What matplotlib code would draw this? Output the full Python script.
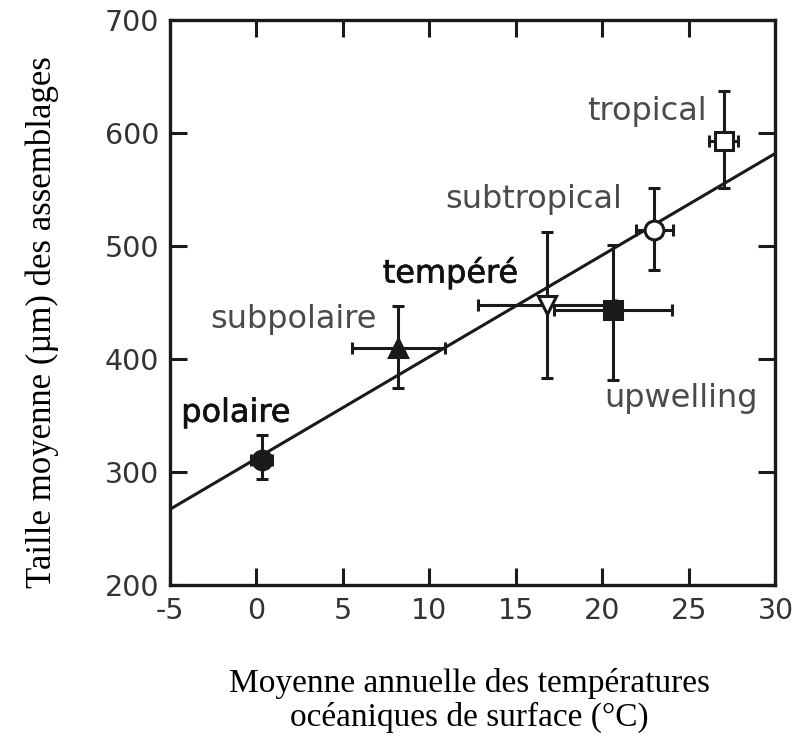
import matplotlib
matplotlib.use("Agg")
import matplotlib.pyplot as plt
import matplotlib.patheffects as pe
import numpy as np

# assemblages : temperature moyenne (degC) et taille moyenne (um)
noms = ["polaire", "subpolaire", "tempéré", "upwelling", "subtropical", "tropical"]
temp = [0.3, 8.2, 16.8, 20.6, 23.0, 27.0]
taille = [311, 410, 448, 443, 514, 593]
err_temp = [0.6, 2.7, 4.0, 3.4, 1.05, 0.85]
err_taille_bas = [17, 36, 65, 62, 35, 42]
err_taille_haut = [22, 37, 64, 58, 37, 44]
marqueurs = ["o", "^", "v", "s", "o", "s"]
remplis = [True, True, False, True, False, False]

# position des etiquettes (coin gauche, centre vertical)
etiq_x = [-4.35, -2.7, 7.3, 20.1, 10.9, 19.1]
etiq_y = [352, 435, 476, 365, 541, 619]
gras = [True, False, True, False, False, False]

# droite de regression
pente = 9.0
ordonnee = 312.0

plt.rcParams["font.family"] = ["DejaVu Sans"]
plt.rcParams["axes.unicode_minus"] = False

fig = plt.figure(figsize=(7.97, 7.42), dpi=100)
ax = fig.add_axes([0.2133, 0.2116, 0.7597, 0.7615])

xl = np.array([-5, 30])
ax.plot(xl, ordonnee + pente * xl, color="#1a1a1a", lw=2.2, zorder=2)

for i in range(len(noms)):
    ax.errorbar(temp[i], taille[i], xerr=err_temp[i],
                yerr=[[err_taille_bas[i]], [err_taille_haut[i]]],
                fmt="none", ecolor="#1a1a1a", elinewidth=2.2,
                capsize=4, capthick=2.2, zorder=3)
    ax.plot(temp[i], taille[i], marker=marqueurs[i], ms=13.5,
            mfc="#1a1a1a" if remplis[i] else "white",
            mec="#1a1a1a", mew=2.2, ls="none", zorder=4)

for i in range(len(noms)):
    t = ax.text(etiq_x[i], etiq_y[i], noms[i], fontsize=23,
                color="#111111" if gras[i] else "#4a4a4a",
                ha="left", va="center")
    if gras[i]:
        t.set_path_effects([pe.withStroke(linewidth=0.5, foreground="#111111")])

ax.set_xlim(-5, 30)
ax.set_ylim(200, 700)
ax.set_xticks(np.arange(-5, 31, 5))
ax.set_yticks(np.arange(200, 701, 100))
ax.tick_params(direction="in", length=12, width=2.2, labelsize=20.5,
               top=True, right=True, colors="#1a1a1a", labelcolor="#333333")
ax.tick_params(axis="y", pad=8)
ax.tick_params(axis="x", pad=9)
for s in ax.spines.values():
    s.set_linewidth(2.4)
    s.set_color("#1a1a1a")

serif = ["Liberation Serif", "DejaVu Serif"]
ax.set_xlabel("Moyenne annuelle des températures\nocéaniques de surface (°C)",
              fontsize=24, family=serif, linespacing=1.1, va="top")
ax.xaxis.set_label_coords(0.495, -0.147)
ax.set_ylabel("Taille moyenne (µm) des assemblages", fontsize=25,
              family=serif)
ax.yaxis.set_label_coords(-0.184, 0.465)

fig.savefig("out.png", dpi=100)
